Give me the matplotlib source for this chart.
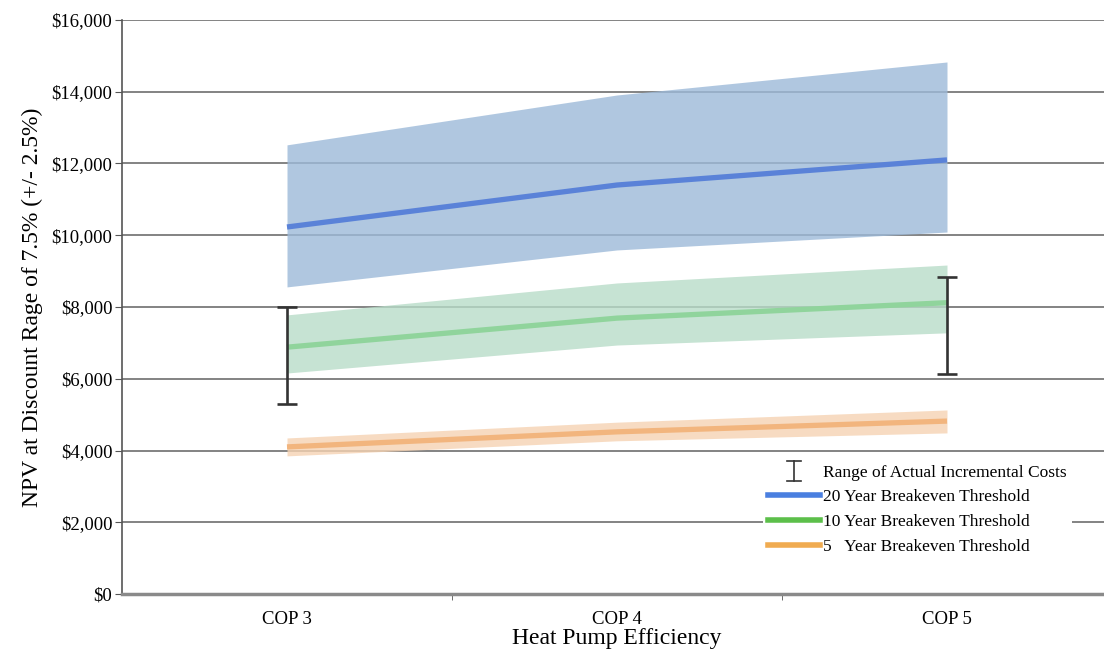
import matplotlib
matplotlib.use("Agg")
import matplotlib.pyplot as plt
from matplotlib.lines import Line2D
from matplotlib.legend_handler import HandlerBase
from matplotlib.ticker import FuncFormatter, FixedLocator, NullFormatter

categories = ["COP 3", "COP 4", "COP 5"]

npv20 = [10230, 11400, 12100]
npv20_low = [8560, 9590, 10090]
npv20_high = [12520, 13910, 14830]

npv10 = [6880, 7690, 8120]
npv10_low = [6160, 6940, 7280]
npv10_high = [7780, 8670, 9170]

npv5 = [4100, 4520, 4820]
npv5_low = [3850, 4270, 4490]
npv5_high = [4350, 4790, 5130]

cost_cats = ["COP 3", "COP 5"]
cost_low = [5300, 6130]
cost_high = [8000, 8830]

plt.rcParams['font.family'] = ['Liberation Serif', 'DejaVu Serif']


class HandlerIBeam(HandlerBase):
    def create_artists(self, legend, orig_handle, xdescent, ydescent, width, height,
                       fontsize, trans):
        cx = width / 2 - xdescent
        h = height * 1.65
        y0 = -ydescent + height / 2 - h / 2
        y1 = y0 + h
        cw = 5
        kw = dict(color='#333333', linewidth=1.2, transform=trans)
        return [Line2D([cx, cx], [y0, y1], **kw),
                Line2D([cx - cw, cx + cw], [y0, y0], **kw),
                Line2D([cx - cw, cx + cw], [y1, y1], **kw)]


fig = plt.figure(figsize=(11.04, 6.5), dpi=100)
ax = fig.add_axes([122/1104, 56/650, 990/1104, 574/650])

x = list(range(len(categories)))

ax.set_axisbelow(True)
ax.yaxis.grid(True, color='#6e6e6e', linewidth=1.2, zorder=0)

ax.fill_between(x, npv20_low, npv20_high, color='#9dbad9', alpha=0.8, linewidth=0, zorder=2)
ax.fill_between(x, npv10_low, npv10_high, color='#b8dcc8', alpha=0.8, linewidth=0, zorder=2)
ax.fill_between(x, npv5_low, npv5_high, color='#f6d3b3', alpha=0.8, linewidth=0, zorder=2)

ax.plot(x, npv20, color='#5a82d8', linewidth=3.8, zorder=3, solid_capstyle='butt')
ax.plot(x, npv10, color='#90d49c', linewidth=3.8, zorder=3, solid_capstyle='butt')
ax.plot(x, npv5, color='#f2b57e', linewidth=3.8, zorder=3, solid_capstyle='butt')

cx = [categories.index(c) for c in cost_cats]
mid = [(lo + hi) / 2 for lo, hi in zip(cost_low, cost_high)]
err = [[m - lo for m, lo in zip(mid, cost_low)], [hi - m for m, hi in zip(mid, cost_high)]]
ax.errorbar(cx, mid, yerr=err, fmt='none', ecolor='#333333', elinewidth=1.9,
            capsize=7.5, capthick=1.9, zorder=4)

ax.set_xlim(-0.5, 2.5)
ax.set_ylim(0, 16000)
ax.set_yticks(range(0, 16001, 2000))
ax.yaxis.set_major_formatter(FuncFormatter(lambda v, p: "${:,.0f}".format(v)))
ax.tick_params(axis='y', labelsize=13.5, direction='out', length=5, color='#555555', pad=2)

ax.set_xticks(x)
ax.set_xticklabels(categories)
ax.tick_params(axis='x', which='major', length=0, labelsize=13.5, pad=12)
ax.xaxis.set_minor_locator(FixedLocator([0.5, 1.5]))
ax.xaxis.set_minor_formatter(NullFormatter())
ax.tick_params(axis='x', which='minor', length=4, direction='out', color='#555555')

for s in ['top', 'right']:
    ax.spines[s].set_visible(False)
ax.spines['left'].set_color('#555555')
ax.spines['left'].set_linewidth(1.2)
ax.spines['bottom'].set_color('#8a8a8a')
ax.spines['bottom'].set_linewidth(2.5)

ax.set_ylabel("NPV at Discount Rage of 7.5% (+/- 2.5%)", fontsize=17, labelpad=6)
ax.set_xlabel("Heat Pump Efficiency", fontsize=17, labelpad=0)

handles = [
    Line2D([], []),
    Line2D([], [], color='#4a7fe0', linewidth=4),
    Line2D([], [], color='#5cbf4a', linewidth=4),
    Line2D([], [], color='#f0ab50', linewidth=4),
]
labels = ["Range of Actual Incremental Costs", "20 Year Breakeven Threshold",
          "10 Year Breakeven Threshold", "5   Year Breakeven Threshold"]
leg = ax.legend(handles, labels, loc='lower left', bbox_to_anchor=(632/990, 25/574),
                frameon=True, fontsize=12.5, handlelength=3.0, handletextpad=0.2,
                labelspacing=0.5, borderpad=0.3,
                handler_map={handles[0]: HandlerIBeam()})
leg.get_frame().set_facecolor('white')
leg.get_frame().set_edgecolor('none')
leg.get_frame().set_alpha(1)
leg.set_zorder(5)

fig.savefig("out.png", dpi=100)
